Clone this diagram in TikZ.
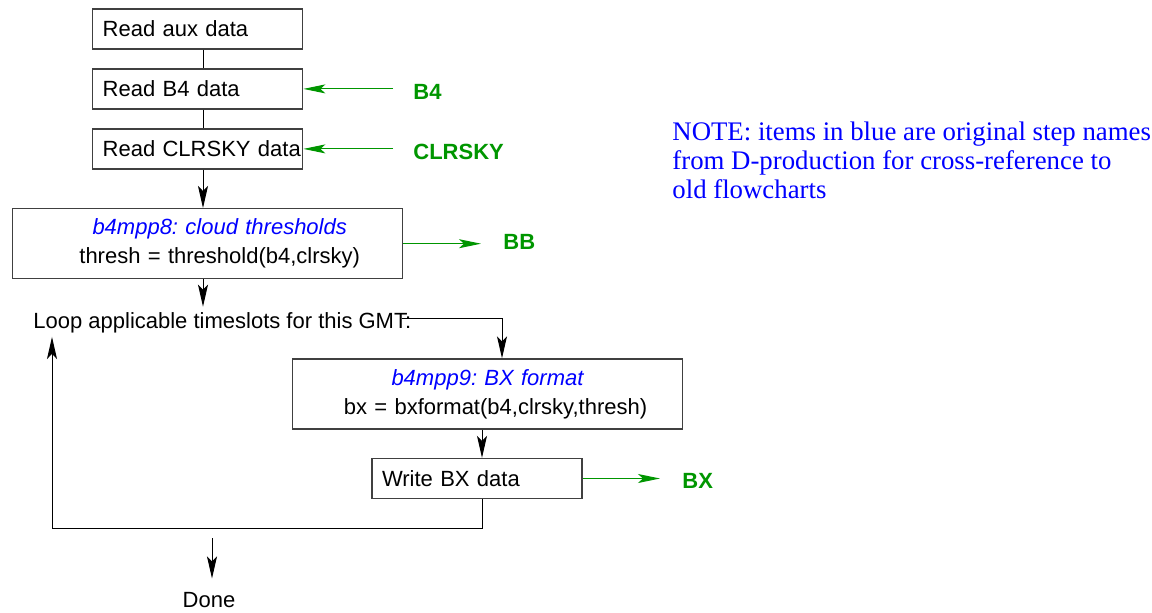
\documentclass[tikz,border=0pt]{standalone}
\usepackage{fontspec}
\setmainfont{Liberation Sans}
\newfontfamily\notefont{Liberation Serif}
\usetikzlibrary{arrows.meta}
\frenchspacing
\definecolor{stepblue}{RGB}{0,0,255}
\definecolor{feedgreen}{RGB}{0,150,0}
\definecolor{framegray}{RGB}{64,64,64}
\newcommand{\stepname}[1]{{\color{stepblue}\itshape #1}}

\begin{document}
\begin{tikzpicture}[
        x=0.5pt, y=-0.5pt,
        every node/.style={font=\fontsize{11}{14.5}\selectfont},
        stepbox/.style={draw=framegray, line width=0.7pt, text width=95pt, inner xsep=5pt, align=left, minimum height=20pt},
        widebox/.style={draw=framegray, line width=0.7pt, text width=185pt, inner xsep=5pt, align=center, minimum height=35pt},
        flow/.style={line width=0.5pt, -{Stealth[length=11pt,width=5pt,inset=2.5pt]}},
        feed/.style={draw=feedgreen, line width=0.5pt, -{Stealth[length=11pt,width=4.5pt,inset=2.5pt]}},
        tag/.style={anchor=base west, inner sep=0pt, text=feedgreen, font=\fontsize{11}{14.5}\selectfont\bfseries}
        ]
        \useasboundingbox (0,0) rectangle (1152,612);
        % main column
        \node (aux) [stepbox] at (197.7,28.9) {Read aux data};
        \node (b4box) [stepbox] at (197.7,88.9) {Read B4 data};
        \node (clrbox) [stepbox] at (197.7,148.9) {Read~CLRSKY~data};
        \node (thr) [widebox] at (207.7,243.7) {\hspace*{12pt}\stepname{b4mpp8: cloud thresholds}\\ \hspace*{12pt}thresh = threshold(b4,clrsky)};
        \node (loop) [anchor=base west, inner sep=0pt] at (33,328) {Loop applicable timeslots for this GMT:};
        \node (fmt) [widebox] at (487.5,394) {\stepname{b4mpp9: BX format}\\ \hspace*{8pt}bx = bxformat(b4,clrsky,thresh)};
        \node (wbx) [stepbox] at (477,478.5) {Write BX data};
        \node (done) [anchor=base, inner sep=0pt] at (209,607) {Done};
        % inputs and outputs
        \node (b4) [tag] at (413,99) {B4};
        \node (clr) [tag] at (413,159) {CLRSKY};
        \node (bb) [tag] at (503,249) {BB};
        \node (bx) [tag] at (682,488) {BX};
        \node (note) [anchor=north west, align=left, inner sep=0pt, text=stepblue, font=\notefont\fontsize{13.4}{14.5}\selectfont] at (672,121.7) {NOTE: items in blue are original step names\\ from D-production for cross-reference to\\ old flowcharts};

        \coordinate (spine) at (203,0);
        \coordinate (spine2) at (482,0);
        \coordinate (back) at (52,528);
        \coordinate (dtop) at (212,538);

        \draw[line width=0.5pt] (aux.south -| spine) -- (b4box.north -| spine);
        \draw[line width=0.5pt] (b4box.south -| spine) -- (clrbox.north -| spine);
        \draw[flow] (clrbox.south -| spine) -- (thr.north -| spine);
        \draw[flow, shorten >=2.5pt] (thr.south -| spine) -- (loop.north -| spine);
        \draw[flow] ([shift={(-5pt,2pt)}]loop.east) -| ([xshift=7.25pt]fmt.north);
        \draw[flow] (fmt.south -| spine2) -- (wbx.north -| spine2);
        \draw[flow, shorten >=2pt] (wbx.south -| spine2) |- (back) -- (back |- loop.south);
        \draw[flow, shorten >=6.5pt] (dtop) -- (dtop |- done.north);

        \draw[feed, shorten <=10pt] (b4.west |- b4box.east) -- (b4box.east);
        \draw[feed, shorten <=10pt] (clr.west |- clrbox.east) -- (clrbox.east);
        \draw[feed, shorten >=11pt] (thr.east) -- (bb.west |- thr.east);
        \draw[feed, shorten >=11pt] (wbx.east) -- (bx.west |- wbx.east);
    \end{tikzpicture}
\end{document}
